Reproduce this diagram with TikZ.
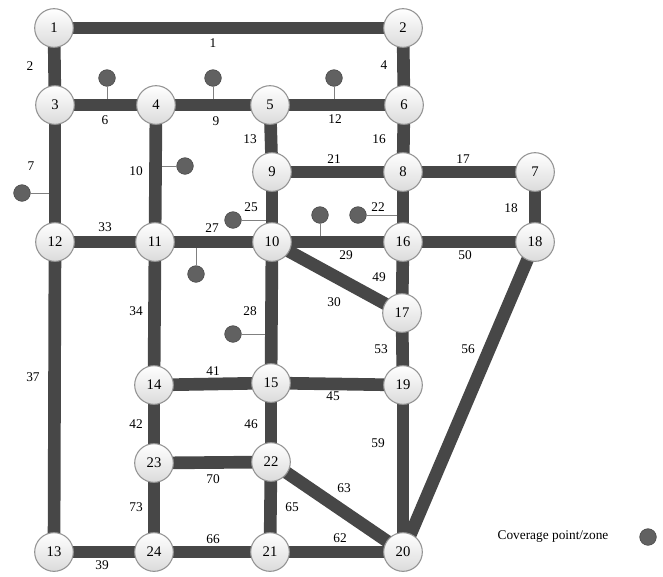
\documentclass[tikz,border=0pt]{standalone}
\usepackage{fontspec}
\setmainfont{Liberation Serif}
\usetikzlibrary{backgrounds}

\begin{document}
\begin{tikzpicture}[x=0.75pt, y=-0.75pt]
    % Define styles
    \tikzstyle{junction} = [circle, draw=gray!85, line width=0.8pt, top color=white, bottom color=gray!28, minimum size=29pt, inner sep=0pt, font=\fontsize{11}{12}\selectfont]
    \tikzstyle{road} = [line width=9.5pt, draw=black!72]
    \tikzstyle{zone} = [circle, fill=black!62, draw=black!72, minimum size=12.5pt, inner sep=0pt]
    \tikzstyle{feeder} = [draw=gray, line width=0.75pt]
    \tikzstyle{lbl} = [font=\fontsize{10}{12}\selectfont, inner sep=1pt]

    \useasboundingbox (0,0) rectangle (663,576);

    % Junctions
    \node[junction] (n1) at (54,28) {1};
    \node[junction] (n2) at (403,28) {2};
    \node[junction] (n3) at (55,105) {3};
    \node[junction] (n4) at (156,105) {4};
    \node[junction] (n5) at (270,105) {5};
    \node[junction] (n6) at (404,105) {6};
    \node[junction] (n9) at (272,172) {9};
    \node[junction] (n8) at (403,172) {8};
    \node[junction] (n7) at (535,172) {7};
    \node[junction] (n12) at (55,242) {12};
    \node[junction] (n11) at (155,242) {11};
    \node[junction] (n10) at (272,242) {10};
    \node[junction] (n16) at (403,242) {16};
    \node[junction] (n18) at (535,242) {18};
    \node[junction] (n17) at (402,313) {17};
    \node[junction] (n14) at (154,385) {14};
    \node[junction] (n15) at (271,383) {15};
    \node[junction] (n19) at (403,385) {19};
    \node[junction] (n23) at (154,463) {23};
    \node[junction] (n22) at (271,462) {22};
    \node[junction] (n13) at (54,552) {13};
    \node[junction] (n24) at (154,552) {24};
    \node[junction] (n21) at (270,552) {21};
    \node[junction] (n20) at (403,552) {20};

    % Coverage points
    \node[zone] (z1) at (107,78) {};
    \node[zone] (z2) at (213,78) {};
    \node[zone] (z3) at (334,78) {};
    \node[zone] (z4) at (22,193) {};
    \node[zone] (z5) at (185,166) {};
    \node[zone] (z6) at (233,220) {};
    \node[zone] (z7) at (196,274) {};
    \node[zone] (z8) at (320,215) {};
    \node[zone] (z9) at (358,215) {};
    \node[zone] (z10) at (233,334) {};

    \begin{pgfonlayer}{background}
    % Feeders to the roads
    \draw[feeder] (z1) -- (z1 |- n3);
    \draw[feeder] (z2) -- (z2 |- n4);
    \draw[feeder] (z3) -- (z3 |- n5);
    \draw[feeder] (z4) -- (z4 -| n3);
    \draw[feeder] (z5) -- (z5 -| n4);
    \draw[feeder] (z6) -- (z6 -| n10);
    \draw[feeder] (z7) -- (z7 |- n11);
    \draw[feeder] (z8) -- (z8 |- n10);
    \draw[feeder] (z9) -- (z9 -| n16);
    \draw[feeder] (z10) -- (z10 -| n10);

    % Roads
    \draw[road] (n1.center) -- (n2.center);
    \draw[road] (n1.center) -- (n3.center);
    \draw[road] (n2.center) -- (n6.center);
    \draw[road] (n3.center) -- (n4.center);
    \draw[road] (n4.center) -- (n5.center);
    \draw[road] (n5.center) -- (n6.center);
    \draw[road] (n3.center) -- (n12.center);
    \draw[road] (n4.center) -- (n11.center);
    \draw[road] (n5.center) -- (n9.center);
    \draw[road] (n6.center) -- (n8.center);
    \draw[road] (n9.center) -- (n8.center);
    \draw[road] (n8.center) -- (n7.center);
    \draw[road] (n7.center) -- (n18.center);
    \draw[road] (n8.center) -- (n16.center);
    \draw[road] (n9.center) -- (n10.center);
    \draw[road] (n12.center) -- (n11.center);
    \draw[road] (n11.center) -- (n10.center);
    \draw[road] (n10.center) -- (n16.center);
    \draw[road] (n16.center) -- (n18.center);
    \draw[road] (n10.center) -- (n17.center);
    \draw[road] (n16.center) -- (n17.center);
    \draw[road] (n10.center) -- (n15.center);
    \draw[road] (n11.center) -- (n14.center);
    \draw[road] (n12.center) -- (n13.center);
    \draw[road] (n17.center) -- (n19.center);
    \draw[road] (n18.center) -- (n20.center);
    \draw[road] (n14.center) -- (n15.center);
    \draw[road] (n15.center) -- (n19.center);
    \draw[road] (n14.center) -- (n23.center);
    \draw[road] (n15.center) -- (n22.center);
    \draw[road] (n19.center) -- (n20.center);
    \draw[road] (n23.center) -- (n22.center);
    \draw[road] (n22.center) -- (n20.center);
    \draw[road] (n23.center) -- (n24.center);
    \draw[road] (n22.center) -- (n21.center);
    \draw[road] (n13.center) -- (n24.center);
    \draw[road] (n24.center) -- (n21.center);
    \draw[road] (n21.center) -- (n20.center);
    \end{pgfonlayer}

    % Road numbers
    \node[lbl] (r1) at (213,43) {1};
    \node[lbl] (r2) at (30,66) {2};
    \node[lbl] (r4) at (384,65) {4};
    \node[lbl] (r6) at (105,120) {6};
    \node[lbl] (r9) at (216,121) {9};
    \node[lbl] (r12) at (335,119) {12};
    \node[lbl] (r13) at (250,139) {13};
    \node[lbl] (r16) at (379,139) {16};
    \node[lbl] (r21) at (334,159) {21};
    \node[lbl] (r17) at (463,159) {17};
    \node[lbl] (r7) at (31,166) {7};
    \node[lbl] (r10) at (136,171) {10};
    \node[lbl] (r25) at (251,207) {25};
    \node[lbl] (r22) at (378,207) {22};
    \node[lbl] (r18) at (511,208) {18};
    \node[lbl] (r33) at (105,227) {33};
    \node[lbl] (r27) at (212,228) {27};
    \node[lbl] (r29) at (346,255) {29};
    \node[lbl] (r50) at (465,255) {50};
    \node[lbl] (r49) at (379,277) {49};
    \node[lbl] (r30) at (334,302) {30};
    \node[lbl] (r34) at (136,311) {34};
    \node[lbl] (r28) at (250,311) {28};
    \node[lbl] (r53) at (381,349) {53};
    \node[lbl] (r56) at (468,349) {56};
    \node[lbl] (r37) at (33,377) {37};
    \node[lbl] (r41) at (213,371) {41};
    \node[lbl] (r45) at (333,396) {45};
    \node[lbl] (r42) at (136,424) {42};
    \node[lbl] (r46) at (251,424) {46};
    \node[lbl] (r59) at (378,443) {59};
    \node[lbl] (r70) at (213,479) {70};
    \node[lbl] (r63) at (344,488) {63};
    \node[lbl] (r73) at (136,507) {73};
    \node[lbl] (r65) at (292,507) {65};
    \node[lbl] (r66) at (213,539) {66};
    \node[lbl] (r62) at (340,538) {62};
    \node[lbl] (r39) at (102,565) {39};

    % Legend
    \node[lbl] (legtext) at (553,537) {Coverage point/zone};
    \node[zone] (legdot) at (648,537) {};
\end{tikzpicture}
\end{document}
